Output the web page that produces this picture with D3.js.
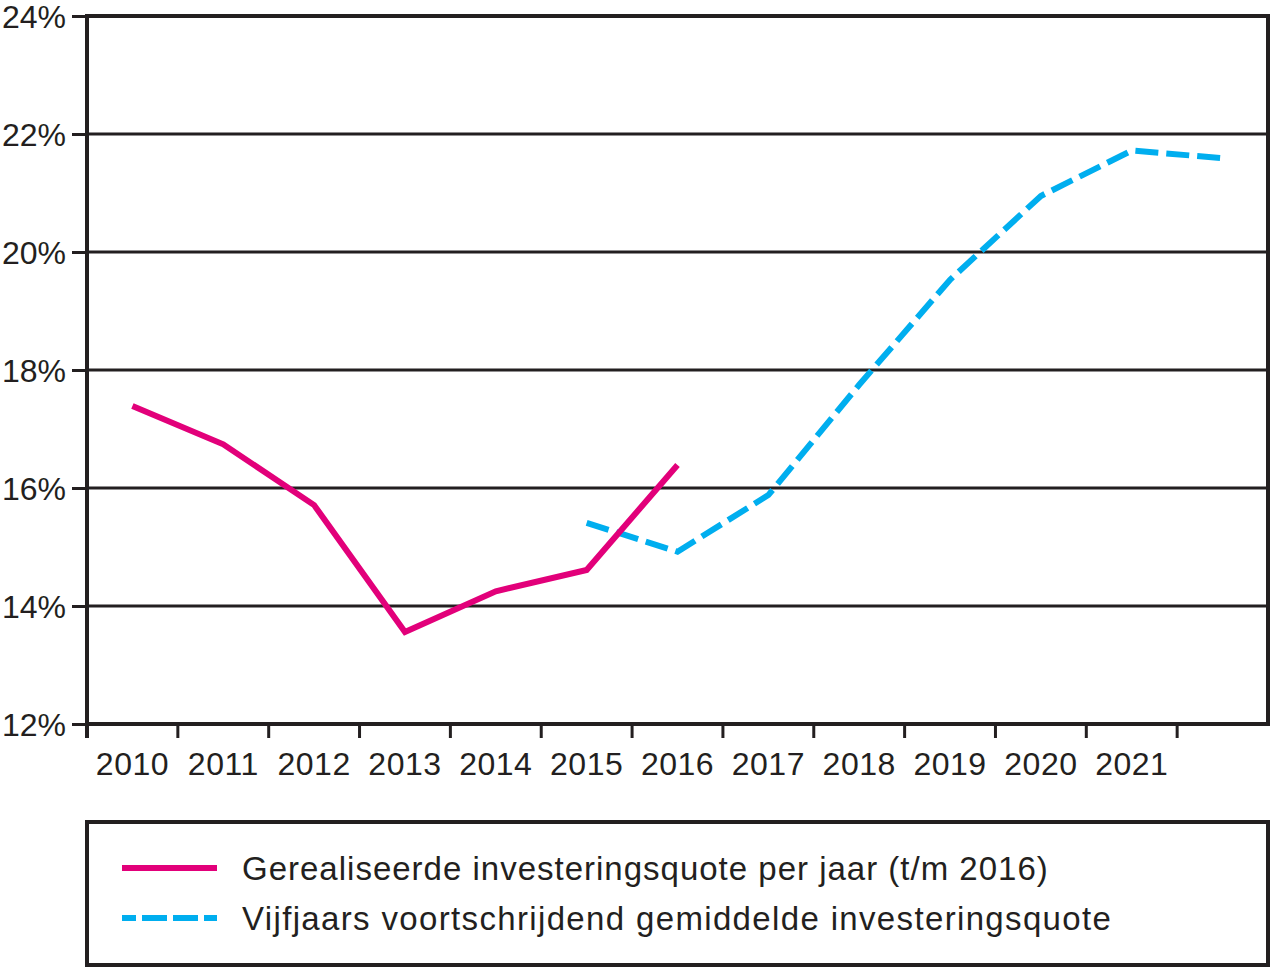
<!DOCTYPE html>
<html><head><meta charset="utf-8">
<script src="https://cdn.jsdelivr.net/npm/d3@7"></script>
<style>body{margin:0;background:#fff}svg{display:block}text{font-family:"Liberation Sans",Arial,sans-serif;fill:#231f20}</style>
</head><body><svg id="c" width="1270" height="968"></svg>
<script>
const years = ["2010","2011","2012","2013","2014","2015","2016","2017","2018","2019","2020","2021","2022"];
const yearLabels = ["2010","2011","2012","2013","2014","2015","2016","2017","2018","2019","2020","2021",""];
const realisedYears = ["2010","2011","2012","2013","2014","2015","2016"];
const realisedValues = [17.39, 16.74, 15.71, 13.56, 14.25, 14.61, 16.39];
const avgYears = ["2015","2016","2017","2018","2019","2020","2021","2022"];
const avgValues = [15.41, 14.92, 15.88, 17.75, 19.53, 20.95, 21.72, 21.59];
const yTicks = [12, 14, 16, 18, 20, 22, 24];
const legendLabels = ["Gerealiseerde investeringsquote per jaar (t/m 2016)", "Vijfjaars voortschrijdend gemiddelde investeringsquote"];
const colors = ["#e2007a", "#00aeef"];

const svg = d3.select("#c");
const L = 87, R = 1268, T = 16, B = 724;
const x = d3.scaleBand().domain(years).range([L, R]).paddingInner(0).paddingOuter(0);
const y = d3.scaleLinear().domain([12, 24]).range([B, T]);
const ink = "#231f20";

// gridlines
svg.append("g").selectAll("line").data(yTicks.slice(1, -1)).join("line")
  .attr("x1", L).attr("x2", R).attr("y1", d => y(d)).attr("y2", d => y(d))
  .attr("stroke", ink).attr("stroke-width", 3);

// y axis
const ya = svg.append("g").attr("transform", `translate(${L},0)`)
  .call(d3.axisLeft(y).tickValues(yTicks).tickFormat(d => d + "%").tickSize(15).tickPadding(6));
ya.select(".domain").remove();
ya.selectAll(".tick line").attr("stroke", ink).attr("stroke-width", 3);
ya.selectAll(".tick text").attr("font-size", 32).attr("dy", "0.36em").attr("fill", ink);

// x axis ticks (band boundaries)
svg.append("g").selectAll("line").data(years.slice(1)).join("line")
  .attr("x1", d => x(d)).attr("x2", d => x(d)).attr("y1", B).attr("y2", B + 14)
  .attr("stroke", ink).attr("stroke-width", 3);
svg.append("line").attr("x1", L).attr("x2", L).attr("y1", B).attr("y2", B + 14).attr("stroke", ink).attr("stroke-width", 4);
svg.append("g").selectAll("text").data(years).join("text")
  .attr("x", d => x(d) + x.bandwidth() / 2).attr("y", B + 51)
  .attr("text-anchor", "middle").attr("font-size", 32).attr("letter-spacing", 0.5)
  .text((d, i) => yearLabels[i]);

// frame
svg.append("rect").attr("x", L).attr("y", T).attr("width", R - L).attr("height", B - T)
  .attr("fill", "none").attr("stroke", ink).attr("stroke-width", 4);

const line = d3.line().x(d => x(d[0]) + x.bandwidth() / 2).y(d => y(d[1]));
svg.append("path").datum(avgYears.map((d, i) => [d, avgValues[i]]))
  .attr("d", line).attr("fill", "none").attr("stroke", colors[1]).attr("stroke-width", 6)
  .attr("stroke-dasharray", "23,8");
svg.append("path").datum(realisedYears.map((d, i) => [d, realisedValues[i]]))
  .attr("d", line).attr("fill", "none").attr("stroke", colors[0]).attr("stroke-width", 6)
  .attr("stroke-linejoin", "miter");

// legend
svg.append("rect").attr("x", 87).attr("y", 822).attr("width", 1181).attr("height", 143)
  .attr("fill", "none").attr("stroke", ink).attr("stroke-width", 4);
const lg = svg.append("g").selectAll("g").data(legendLabels).join("g")
  .attr("transform", (d, i) => `translate(0,${868 + i * 50})`);
lg.append("line").attr("x1", 122).attr("x2", 217).attr("y1", 0).attr("y2", 0)
  .attr("stroke", (d, i) => colors[i]).attr("stroke-width", 6)
  .attr("stroke-dasharray", (d, i) => i ? "25,6" : null)
  .attr("stroke-dashoffset", (d, i) => i ? 11 : 0);
lg.append("text").attr("x", 242).attr("y", 0).attr("dy", "0.36em").attr("font-size", 33)
  .attr("letter-spacing", (d, i) => i ? 1.35 : 1.0).text(d => d);
</script></body></html>
